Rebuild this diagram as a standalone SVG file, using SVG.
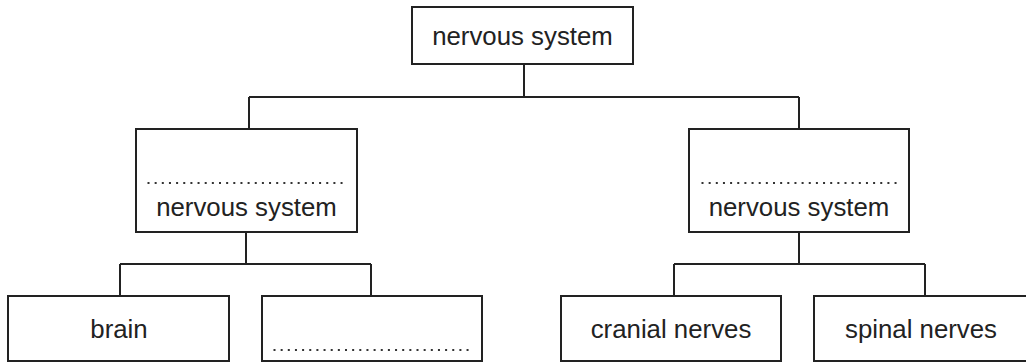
<svg xmlns="http://www.w3.org/2000/svg" width="1026" height="363" viewBox="0 0 1026 363">
<style>
.box{fill:#fff;stroke:#222;stroke-width:2}
.ln{fill:none;stroke:#222;stroke-width:2}
.t{font-family:"Liberation Sans",Arial,sans-serif;font-size:25.8px;fill:#222;text-anchor:middle}
.dots{fill:none;stroke:#333;stroke-width:2;stroke-dasharray:2 5.15}
</style>
<rect width="1026" height="363" fill="#fff"/>
<g id="connectors">
<path class="ln" d="M524 64V97M249 97H799M249 97V129M799 97V129"/>
<path class="ln" d="M246 232V264M120 264H371M120 264V296M371 264V296"/>
<path class="ln" d="M799 232V264M674 264H925M674 264V296M925 264V296"/>
</g>
<g id="n-top">
<rect class="box" x="412" y="7" width="221" height="57"/>
<text class="t" x="522.5" y="45">nervous system</text>
</g>
<g id="n-mid-left">
<rect class="box" x="136" y="129" width="221" height="103"/>
<line class="dots" x1="147.5" y1="183" x2="346" y2="183"/>
<text class="t" x="246.5" y="216">nervous system</text>
</g>
<g id="n-mid-right">
<rect class="box" x="689" y="129" width="220" height="103"/>
<line class="dots" x1="701.5" y1="183" x2="900" y2="183"/>
<text class="t" x="799" y="216">nervous system</text>
</g>
<g id="n-brain">
<rect class="box" x="8" y="296" width="221" height="65"/>
<text class="t" x="119" y="338">brain</text>
</g>
<g id="n-blank">
<rect class="box" x="262" y="296" width="220" height="65"/>
<line class="dots" x1="273.5" y1="350" x2="472" y2="350"/>
</g>
<g id="n-cranial">
<rect class="box" x="561" y="296" width="220" height="65"/>
<text class="t" x="671" y="338">cranial nerves</text>
</g>
<g id="n-spinal">
<rect class="box" x="814" y="296" width="220" height="65"/>
<text class="t" x="921" y="338">spinal nerves</text>
</g>
</svg>
